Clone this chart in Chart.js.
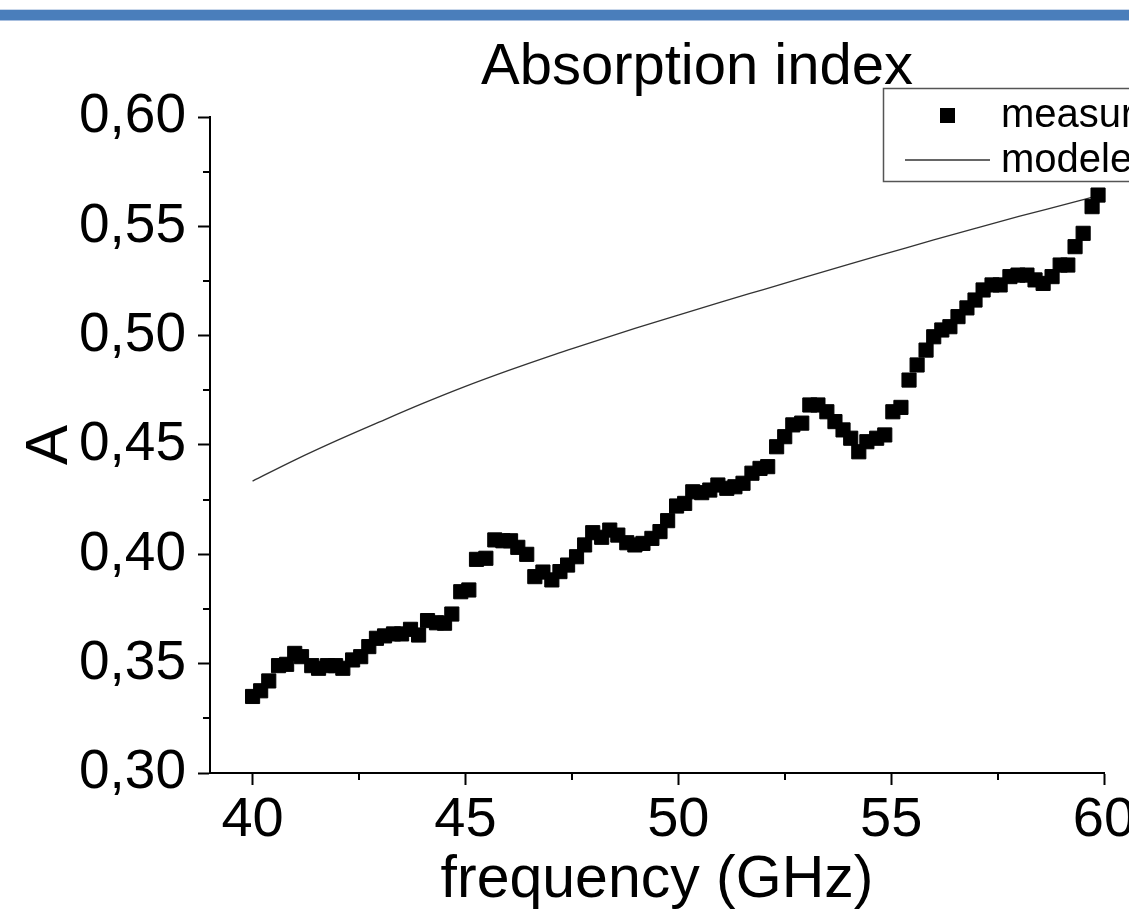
<!DOCTYPE html>
<html>
<head>
<meta charset="utf-8">
<script src="https://cdn.jsdelivr.net/npm/chart.js@4"></script>
<style>
    html, body { margin: 0; padding: 0; background: #fff; }
    #wrap { position: relative; width: 1129px; height: 910px; overflow: hidden; }
    #band {
        position: absolute; left: 0; top: 9px; width: 1129px; height: 10px;
        background: #4a7ebb; border-top: 1px solid #c9d7ea; border-bottom: 1px solid #a8bfdf;
    }
    #chart { position: absolute; left: 0; top: 0; }
</style>
</head>
<body>
<div id="wrap">
    <div id="band"></div>
    <canvas id="chart" width="1129" height="910"></canvas>
</div>
<script>
const chartTitle = 'Absorption index';
const xTitle = 'frequency (GHz)';
const yTitle = 'A';
const seriesNames = ['measured', 'modeled'];

// measured points
const freqMeasured = [
    40.00, 40.19, 40.38, 40.61, 40.80, 40.99, 41.15, 41.39, 41.55, 41.76, 41.95,
    42.12, 42.35, 42.54, 42.73, 42.91, 43.10, 43.31, 43.50, 43.71, 43.90,
    44.11, 44.32, 44.51, 44.68, 44.89, 45.08, 45.26, 45.48, 45.69, 45.88,
    46.06, 46.23, 46.44, 46.63, 46.82, 47.03, 47.22, 47.40, 47.61, 47.80,
    47.99, 48.20, 48.39, 48.58, 48.79, 48.98, 49.17, 49.38, 49.57, 49.75,
    49.96, 50.15, 50.34, 50.55, 50.74, 50.93, 51.14, 51.33, 51.52, 51.73,
    51.92, 52.10, 52.31, 52.50, 52.69, 52.90, 53.09, 53.28, 53.49, 53.68,
    53.87, 54.05, 54.24, 54.43, 54.66, 54.85, 55.04, 55.23, 55.42, 55.61,
    55.82, 56.00, 56.19, 56.38, 56.57, 56.78, 56.97, 57.16, 57.37, 57.56,
    57.79, 57.98, 58.19, 58.38, 58.57, 58.78, 58.97, 59.15, 59.32, 59.51,
    59.72, 59.86
];
const absMeasured = [
    0.3350, 0.3376, 0.3421, 0.3491, 0.3497, 0.3547, 0.3532, 0.3491, 0.3479, 0.3491, 0.3491,
    0.3479, 0.3517, 0.3532, 0.3578, 0.3616, 0.3627, 0.3636, 0.3636, 0.3657, 0.3631,
    0.3697, 0.3687, 0.3685, 0.3727, 0.3829, 0.3837, 0.3977, 0.3982, 0.4066, 0.4062,
    0.4062, 0.4032, 0.4000, 0.3898, 0.3919, 0.3883, 0.3921, 0.3951, 0.3989, 0.4043,
    0.4099, 0.4078, 0.4111, 0.4088, 0.4053, 0.4043, 0.4050, 0.4073, 0.4104, 0.4154,
    0.4221, 0.4233, 0.4286, 0.4282, 0.4294, 0.4317, 0.4302, 0.4309, 0.4325, 0.4371,
    0.4393, 0.4401, 0.4492, 0.4538, 0.4592, 0.4600, 0.4683, 0.4683, 0.4652, 0.4607,
    0.4569, 0.4531, 0.4469, 0.4515, 0.4531, 0.4546, 0.4652, 0.4672, 0.4797, 0.4866,
    0.4934, 0.4995, 0.5026, 0.5041, 0.5087, 0.5127, 0.5163, 0.5209, 0.5232, 0.5232,
    0.5270, 0.5277, 0.5277, 0.5255, 0.5239, 0.5270, 0.5323, 0.5323, 0.5407, 0.5468,
    0.5590, 0.5643
];

// modeled curve
const freqModel = [40, 41, 42, 43, 44, 45, 46, 47, 48, 49, 50, 51, 52, 53, 54, 55, 56, 57, 58, 59, 60];
const absModel = [
    0.4335, 0.4432, 0.4522, 0.4607, 0.4690, 0.4768, 0.4840, 0.4908, 0.4972, 0.5034, 0.5094,
    0.5153, 0.5211, 0.5269, 0.5326, 0.5382, 0.5438, 0.5492, 0.5545, 0.5596, 0.5647
];

const xTicks = [40, 45, 50, 55, 60];
const xMinor = [42.5, 47.5, 52.5, 57.5];
const yTicks = [0.30, 0.35, 0.40, 0.45, 0.50, 0.55, 0.60];
const yMinor = [0.325, 0.375, 0.425, 0.475, 0.525, 0.575];

const FONT = '"Liberation Sans", Arial, sans-serif';

const decor = {
    id: 'decor',
    afterDraw(chart) {
        const ctx = chart.ctx;
        const xs = chart.scales.x, ys = chart.scales.y;
        ctx.save();

        // minor ticks
        ctx.strokeStyle = '#000';
        ctx.lineWidth = 2;
        ctx.beginPath();
        xMinor.forEach(v => {
            const px = Math.round(xs.getPixelForValue(v));
            ctx.moveTo(px, xs.top);
            ctx.lineTo(px, xs.top + 7);
        });
        yMinor.forEach(v => {
            const py = Math.round(ys.getPixelForValue(v));
            ctx.moveTo(ys.right, py);
            ctx.lineTo(ys.right - 7, py);
        });
        ctx.stroke();

        // title
        ctx.fillStyle = '#000';
        ctx.font = '58px ' + FONT;
        ctx.textAlign = 'center';
        ctx.textBaseline = 'alphabetic';
        ctx.fillText(chartTitle, 697, 84);

        // legend box (runs off the right edge like the original)
        ctx.fillStyle = '#fff';
        ctx.fillRect(883, 88, 300, 94);
        ctx.strokeStyle = '#555';
        ctx.lineWidth = 1.5;
        ctx.strokeRect(883.5, 88.5, 300, 93);

        ctx.fillStyle = '#000';
        ctx.fillRect(940, 108, 15, 15);
        ctx.strokeStyle = '#333';
        ctx.lineWidth = 1.3;
        ctx.beginPath();
        ctx.moveTo(905, 160);
        ctx.lineTo(990, 160);
        ctx.stroke();

        ctx.fillStyle = '#000';
        ctx.font = '40px ' + FONT;
        ctx.textAlign = 'left';
        ctx.textBaseline = 'middle';
        ctx.fillText(seriesNames[0], 1001, 116);
        ctx.fillText(seriesNames[1], 1001, 161);
        ctx.restore();
    }
};

const measuredPts = freqMeasured.map((f, i) => ({ x: f, y: absMeasured[i] }));
const modelPts = freqModel.map((f, i) => ({ x: f, y: absModel[i] }));

new Chart(document.getElementById('chart').getContext('2d'), {
    type: 'scatter',
    data: {
        datasets: [
            {
                label: seriesNames[0],
                data: measuredPts,
                pointStyle: 'rect',
                pointRadius: 10,
                pointBackgroundColor: '#000',
                pointBorderColor: '#000',
                pointBorderWidth: 1,
                showLine: false,
                clip: false,
                order: 1
            },
            {
                label: seriesNames[1],
                data: modelPts,
                showLine: true,
                borderColor: '#333',
                borderWidth: 1.3,
                pointRadius: 0,
                cubicInterpolationMode: 'monotone',
                clip: false,
                order: 2
            }
        ]
    },
    options: {
        responsive: false,
        animation: false,
        devicePixelRatio: 1,
        layout: { padding: { top: 117, right: 25, left: 0, bottom: 0 } },
        plugins: {
            legend: { display: false },
            title: { display: false },
            tooltip: { enabled: false }
        },
        scales: {
            x: {
                type: 'linear',
                min: 39,
                max: 60,
                afterBuildTicks: s => { s.ticks = xTicks.map(v => ({ value: v })); },
                afterFit: s => { s.height = 137; s.paddingLeft = 0; s.paddingRight = 0; },
                ticks: {
                    color: '#000',
                    font: { family: FONT, size: 56 },
                    padding: 2,
                    maxRotation: 0,
                    autoSkip: false,
                    callback: v => String(v)
                },
                grid: { drawOnChartArea: false, drawTicks: true, tickLength: 12, tickColor: '#000', tickWidth: 2 },
                border: { display: true, color: '#000', width: 2 },
                title: {
                    display: true,
                    text: xTitle,
                    color: '#000',
                    font: { family: FONT, size: 59 },
                    padding: { top: 0, bottom: -6 }
                }
            },
            y: {
                type: 'linear',
                min: 0.30,
                max: 0.60,
                afterBuildTicks: s => { s.ticks = yTicks.map(v => ({ value: v })); },
                afterFit: s => { s.width = 210; s.paddingTop = 0; s.paddingBottom = 0; },
                ticks: {
                    color: '#000',
                    font: { family: FONT, size: 55 },
                    padding: 12,
                    autoSkip: false,
                    callback: v => v.toFixed(2).replace('.', ',')
                },
                grid: { drawOnChartArea: false, drawTicks: true, tickLength: 12, tickColor: '#000', tickWidth: 2 },
                border: { display: true, color: '#000', width: 2 },
                title: {
                    display: true,
                    text: yTitle,
                    color: '#000',
                    font: { family: FONT, size: 60 },
                    padding: { top: 14, bottom: 0 }
                }
            }
        }
    },
    plugins: [decor]
});
</script>
</body>
</html>
